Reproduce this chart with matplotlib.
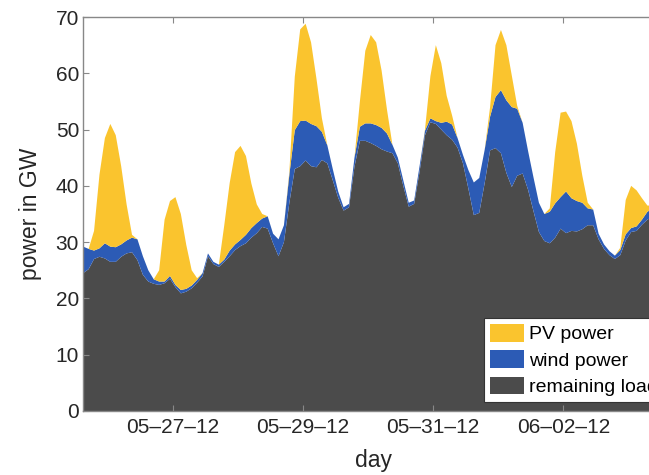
import numpy as np
import matplotlib
matplotlib.use("Agg")
import matplotlib.pyplot as plt

plt.rcParams['font.family'] = ['Liberation Sans', 'DejaVu Sans']

# 2-hourly values in GW, starting 05-25-12 15:00
start = np.datetime64("2012-05-25T15:00")
step_hours = 2

remaining_load = [
    24.5, 25.2, 27.0, 27.4, 27.1, 26.5, 26.5, 27.4, 28.0, 28.2,
    26.8, 24.2, 23.0, 22.6, 22.4, 22.7, 23.5, 22.0, 20.9, 21.2,
    21.8, 22.8, 23.9, 27.5, 26.1, 25.6, 26.5, 27.5, 28.6, 29.3,
    29.8, 30.8, 31.6, 32.7, 32.4, 29.8, 27.5, 30.0, 37.0, 43.0,
    43.5, 44.5, 43.5, 43.3, 44.6, 44.0, 41.0, 37.9, 35.6, 36.2,
    43.4, 48.0, 48.0, 47.6, 47.1, 46.5, 46.1, 45.8, 44.0, 40.0,
    36.3, 36.8, 42.5, 49.0, 51.3, 51.0, 50.0, 49.0, 48.2, 46.8,
    44.0, 39.5, 34.8, 35.2, 40.5, 46.3, 46.7, 45.8, 42.3, 39.8,
    41.8, 42.2, 39.3, 35.5, 31.8, 30.2, 29.8, 30.8, 32.4, 31.6,
    32.0, 31.9, 32.3, 33.0, 33.0, 30.5, 28.8, 27.7, 27.0, 27.7,
    30.3, 31.8, 32.0, 33.1, 34.0, 34.5, 35.0, 35.5,
]
wind_power = [
    4.7, 3.6, 1.5, 1.5, 2.7, 2.7, 2.6, 2.2, 2.3, 2.6,
    3.7, 3.3, 2.0, 0.8, 0.6, 0.3, 0.5, 0.4, 0.6, 0.5,
    0.5, 0.5, 0.6, 0.5, 0.4, 0.4, 0.4, 1.0, 1.0, 1.1,
    1.5, 1.7, 1.8, 1.5, 2.2, 1.7, 3.0, 3.0, 5.0, 6.9,
    8.0, 7.1, 7.5, 7.3, 5.0, 3.2, 2.0, 1.1, 0.6, 0.6,
    1.6, 2.5, 3.1, 3.5, 3.7, 3.8, 3.2, 1.5, 1.0, 1.0,
    0.7, 0.6, 1.0, 0.8, 0.7, 0.5, 1.2, 2.4, 2.7, 1.7,
    1.5, 3.3, 5.8, 6.2, 5.9, 6.0, 9.1, 11.2, 12.9, 14.2,
    11.9, 9.0, 6.9, 6.0, 5.2, 4.8, 5.6, 6.1, 5.6, 7.4,
    5.8, 5.4, 4.7, 3.0, 2.8, 1.0, 0.8, 0.7, 0.6, 0.9,
    1.1, 0.7, 0.8, 0.9, 1.4, 1.5, 1.5, 1.5,
]
pv_power = [
    0.0, 0.0, 3.5, 13.1, 18.7, 21.8, 19.9, 13.9, 6.4, 0.5,
    0.0, 0.0, 0.0, 0.0, 2.0, 11.0, 13.3, 15.6, 13.5, 7.8,
    2.7, 0.3, 0.0, 0.0, 0.0, 0.0, 6.1, 12.0, 16.4, 16.7,
    14.0, 7.9, 3.3, 0.8, 0.0, 0.0, 0.0, 0.0, 0.5, 9.5,
    16.3, 17.2, 14.5, 8.4, 2.4, 0.0, 0.0, 0.0, 0.0, 0.0,
    0.0, 4.5, 12.9, 15.7, 14.7, 10.2, 4.2, 0.0, 0.0, 0.0,
    0.0, 0.0, 0.0, 0.2, 7.5, 13.5, 10.6, 4.6, 1.6, 0.0,
    0.0, 0.0, 0.0, 0.0, 0.0, 1.7, 9.2, 10.7, 9.8, 5.6,
    0.5, 0.0, 0.0, 0.0, 0.0, 0.0, 0.6, 9.1, 15.0, 14.2,
    13.7, 10.2, 4.8, 1.0, 0.0, 0.0, 0.0, 0.0, 0.0, 0.4,
    6.1, 7.5, 6.4, 3.8, 1.1, 0.5, 0.3, 0.0,
]

tick_days = ["2012-05-27", "2012-05-29", "2012-05-31", "2012-06-02"]
tick_labels = ["05\u201327\u201312", "05\u201329\u201312", "05\u201331\u201312", "06\u201302\u201312"]
yticks = [0, 10, 20, 30, 40, 50, 60, 70]

hours = np.arange(len(remaining_load)) * step_hours
time = start + hours.astype("timedelta64[h]")

c_load = "#4b4b4b"
c_wind = "#2c5bb5"
c_pv = "#fac42e"
c_text = "#262626"

fig = plt.figure(figsize=(6.49, 4.75), dpi=100)
# the right side of the axes runs past the figure edge, like the cropped original
ax = fig.add_axes([83.2 / 649, 64 / 475, 580.5 / 649, 394 / 475])

ax.stackplot(time, remaining_load, wind_power, pv_power,
             colors=[c_load, c_wind, c_pv],
             labels=["remaining load", "wind power", "PV power"],
             linewidth=0)

ax.set_xlim(time[0], time[-1])
ax.set_ylim(0, 70)
ax.set_yticks(yticks)
ax.set_xticks(np.array(tick_days, dtype="datetime64[h]"))
ax.set_xticklabels(tick_labels)

ax.tick_params(direction="in", top=True, right=True, length=4, width=0.8,
               color="#888888", labelcolor=c_text, labelsize=15)
ax.tick_params(axis="x", pad=5)
ax.tick_params(axis="y", pad=3)
for s in ax.spines.values():
    s.set_color("#888888")
    s.set_linewidth(1.0)

ax.set_xlabel("day", fontsize=16.5, color=c_text, labelpad=9)
ax.set_ylabel("power in GW", fontsize=16.5, color=c_text, labelpad=10)

handles, labels = ax.get_legend_handles_labels()
leg = ax.legend(handles[::-1], labels[::-1], loc="lower left",
                bbox_to_anchor=(0.690, 0.023), fontsize=14, frameon=True,
                fancybox=False, handlelength=1.75, handleheight=1.03,
                labelspacing=0.35, handletextpad=0.3, borderpad=0.3,
                borderaxespad=0)
leg.get_frame().set_edgecolor("#333333")
leg.get_frame().set_linewidth(0.8)
leg.get_frame().set_alpha(1)

fig.savefig("out.png", dpi=100)
